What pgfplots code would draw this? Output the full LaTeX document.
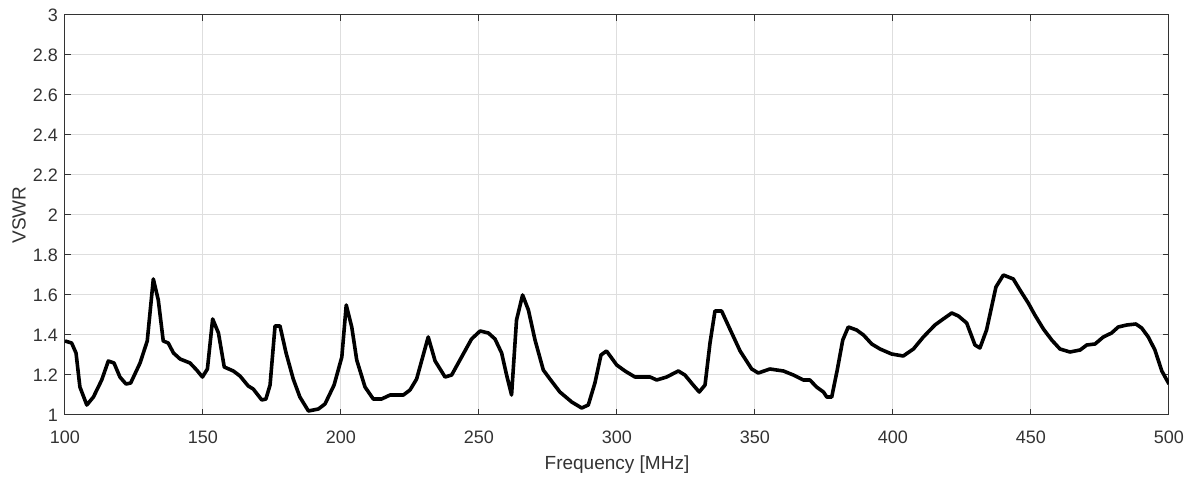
\documentclass[border=0pt]{standalone}
\usepackage{fontspec}
\setmainfont{Liberation Sans}
\usepackage{pgfplots}
\pgfplotsset{compat=1.18}
\definecolor{axgray}{gray}{0.2}
\definecolor{gridgray}{gray}{0.87}

\begin{document}
\begin{tikzpicture}
\begin{axis}[
    scale only axis,
    width=552pt, height=200pt,
    xmin=100, xmax=500,
    ymin=1, ymax=3,
    xtick={100,150,...,500},
    ytick={1,1.2,...,3.01},
    /pgf/number format/assume math mode=true,
    tick label style={font=\fontsize{9}{10}\selectfont, text=axgray},
    xticklabel style={yshift=-4.5pt},
    xlabel={Frequency [MHz]},
    ylabel={VSWR},
    label style={font=\fontsize{9.5}{11}\selectfont, text=axgray},
    xlabel style={at={(axis description cs:0.5,-0.125)}, anchor=center},
    ylabel style={at={(axis description cs:-0.0417,0.5)}, anchor=center},
    grid=major,
    grid style={gridgray, line width=0.5pt},
    axis line style={axgray, line width=0.5pt},
    tick style={axgray, line width=0.5pt},
    tick align=inside,
    major tick length=3pt,
]
\addplot[black, line width=1.8pt, line join=round] coordinates {
(100,1.37)(102.4,1.36)(104,1.31)(105.4,1.14)(107.9,1.05)(110.3,1.09)
(113.3,1.175)(115.7,1.27)(117.75,1.26)(119.9,1.19)(122.1,1.155)(123.8,1.16)
(127.2,1.26)(129.8,1.37)(132,1.68)(133.8,1.575)(135.6,1.37)(137.4,1.36)
(139.3,1.31)(141.7,1.28)(145.3,1.26)(147.7,1.225)(149.8,1.19)(151.6,1.23)
(153.5,1.48)(155.6,1.41)(157.7,1.24)(161,1.22)(163.4,1.195)(166.4,1.145)
(168.2,1.13)(171.3,1.075)(172.8,1.08)(174.3,1.15)(176.1,1.445)(177.9,1.445)
(180.1,1.31)(182.7,1.18)(185.1,1.09)(188.2,1.02)(191.8,1.03)(194.2,1.055)
(197.5,1.15)(200.3,1.29)(201.9,1.55)(203.9,1.44)(205.7,1.275)(208.7,1.14)
(211.7,1.08)(214.7,1.08)(217.8,1.1)(222.6,1.1)(225,1.125)(227.4,1.18)
(229.2,1.27)(231.6,1.39)(234.1,1.27)(237.7,1.19)(240.1,1.2)(243.1,1.275)
(247.3,1.38)(250.4,1.42)(253.4,1.41)(255.8,1.38)(258.2,1.31)(260,1.2)
(261.8,1.1)(263.6,1.475)(265.8,1.6)(267.9,1.525)(270.3,1.375)(273.3,1.225)
(275.7,1.18)(279.3,1.115)(283.6,1.065)(287.2,1.035)(289.6,1.05)(292,1.16)
(294.2,1.3)(296.2,1.32)(299.9,1.25)(302.9,1.22)(306.5,1.19)(312,1.19)
(314.4,1.175)(318,1.19)(322.2,1.22)(324.6,1.2)(327.6,1.15)(329.8,1.115)
(331.9,1.15)(333.7,1.36)(335.5,1.52)(337.9,1.52)(340.9,1.43)(344.6,1.32)
(348.8,1.23)(351.2,1.21)(355.4,1.23)(360.3,1.22)(363.9,1.2)(367.5,1.175)
(369.9,1.175)(372.3,1.14)(374.8,1.115)(376,1.09)(377.8,1.09)(379.8,1.225)
(381.8,1.375)(383.8,1.44)(386.8,1.425)(389.3,1.4)(392.3,1.355)(395.3,1.33)
(399.5,1.305)(403.7,1.295)(407.4,1.33)(411,1.39)(415.2,1.45)(418.2,1.48)
(421.3,1.51)(423.7,1.495)(426.7,1.46)(429.7,1.35)(431.5,1.335)(433.9,1.425)
(437.3,1.64)(440,1.70)(443.6,1.68)(446,1.625)(449,1.56)(451.4,1.5)
(454.5,1.43)(457.5,1.375)(460.5,1.33)(464.1,1.315)(467.8,1.325)(470.2,1.35)
(473.2,1.355)(476.2,1.39)(479.2,1.41)(481.6,1.44)(484.7,1.45)(488,1.455)
(490.1,1.435)(492.5,1.39)(494.9,1.325)(497.4,1.22)(500,1.155)
};
\end{axis}
% fix the page to the reference's margins round the axis
\pgfresetboundingbox
\path (current axis.south west) ++(-32.5pt,-33pt) rectangle ++(598pt,240.5pt);
\end{tikzpicture}
\end{document}
